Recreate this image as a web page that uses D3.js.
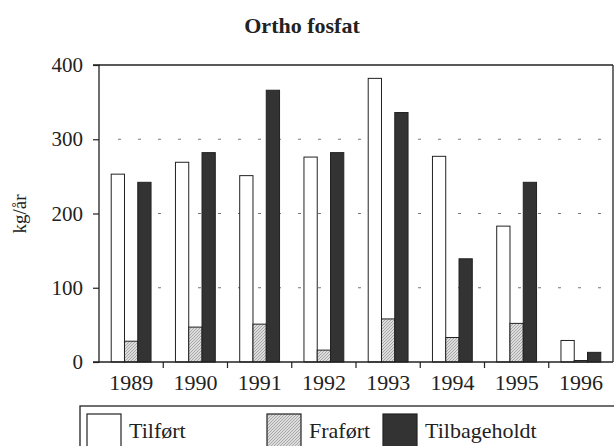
<!DOCTYPE html>
<html><head><meta charset="utf-8">
<script src="https://cdn.jsdelivr.net/npm/d3@7"></script>
<style>
html,body{margin:0;padding:0;background:#fff;}
svg{display:block;font-family:"Liberation Serif","Times New Roman",serif;}
</style></head>
<body>
<svg id="c" width="614" height="446"></svg>
<script>
const years = ["1989","1990","1991","1992","1993","1994","1995","1996"];
const tilfoert = [253, 269, 251, 276, 382, 277, 183, 29];
const fraFoert = [28, 47, 51, 16, 58, 33, 52, 2];
const tilbageholdt = [242, 282, 366, 282, 336, 139, 242, 13];
const seriesNames = ["Tilført", "Fraført", "Tilbageholdt"];
const yTicks = [0, 100, 200, 300, 400];
const title = "Ortho fosfat";
const yLabel = "kg/år";

const svg = d3.select("#c");
const m = {left: 99, right: 613, top: 65, bottom: 362};

const defs = svg.append("defs");
const pat = defs.append("pattern").attr("id","hatch").attr("patternUnits","userSpaceOnUse")
  .attr("width",3).attr("height",3);
pat.append("rect").attr("width",3).attr("height",3).attr("fill","#dcdcdc");
pat.append("path").attr("d","M-1,1 L1,-1 M0,3 L3,0 M2,4 L4,2").attr("stroke","#9a9a9a").attr("stroke-width",0.8);

const fills = ["#ffffff","url(#hatch)","#333333"];
const data = years.map((y,i)=>({year:y, vals:[tilfoert[i], fraFoert[i], tilbageholdt[i]]}));

const x = d3.scaleBand().domain(years).range([m.left, m.right]).padding(0);
const bw = x.bandwidth();
const inner = d3.scaleBand().domain(d3.range(3)).range([bw*0.19, bw*0.81]).padding(0);
const y = d3.scaleLinear().domain([0,400]).range([m.bottom, m.top]);

// title
svg.append("text").attr("x",302).attr("y",33).attr("text-anchor","middle")
  .attr("font-weight","bold").attr("font-size",22).attr("fill","#222").text(title);

// y label
svg.append("text").attr("transform","translate(26,214) rotate(-90)").attr("text-anchor","middle")
  .attr("font-size",19).attr("fill","#222").text(yLabel);

// gridlines
svg.append("g").selectAll("line").data(yTicks.filter(t=>t>0 && t<400)).join("line")
  .attr("x1",m.left+19).attr("x2",m.right).attr("y1",d=>y(d)).attr("y2",d=>y(d))
  .attr("stroke","#777").attr("stroke-width",1.2).attr("stroke-dasharray","3,17");

// bars
const g = svg.append("g");
data.forEach(d=>{
  d.vals.forEach((v,k)=>{
    g.append("rect")
      .attr("x", x(d.year)+inner(k)).attr("width", inner.bandwidth())
      .attr("y", y(v)).attr("height", y(0)-y(v))
      .attr("fill", fills[k]).attr("stroke","#222").attr("stroke-width",1);
  });
});

// frame
svg.append("line").attr("x1",m.left).attr("x2",m.right).attr("y1",m.top).attr("y2",m.top).attr("stroke","#222").attr("stroke-width",1.3);
svg.append("line").attr("x1",m.right).attr("x2",m.right).attr("y1",m.top).attr("y2",m.bottom).attr("stroke","#222").attr("stroke-width",1.3);

// y axis
const yAxis = d3.axisLeft(y).tickValues(yTicks).tickSize(6).tickPadding(10);
const ya = svg.append("g").attr("transform",`translate(${m.left},0)`).call(yAxis);
ya.select(".domain").attr("stroke","#222").attr("stroke-width",1.3).attr("d",`M-6,${m.top}H0V${m.bottom}H-6`);
ya.selectAll(".tick line").attr("stroke","#222").attr("stroke-width",1.2);
ya.selectAll("text").attr("font-size",21).attr("font-family","Liberation Serif").attr("fill","#222");

// x axis
const xa = svg.append("g").attr("transform",`translate(0,${m.bottom})`)
  .call(d3.axisBottom(x).tickSize(0).tickPadding(12));
xa.select(".domain").attr("stroke","#222").attr("stroke-width",1.3).attr("d",`M${m.left},0H${m.right}`);
xa.selectAll("text").attr("font-size",22).attr("font-family","Liberation Serif").attr("fill","#222");
svg.append("g").selectAll("line").data(years.slice(1)).join("line")
  .attr("x1",d=>x(d)).attr("x2",d=>x(d)).attr("y1",m.bottom).attr("y2",m.bottom+6)
  .attr("stroke","#222").attr("stroke-width",1.2);

// legend
svg.append("rect").attr("x",80).attr("y",406).attr("width",600).attr("height",80)
  .attr("fill","none").attr("stroke","#222").attr("stroke-width",1.3);
const legX = [87, 267, 383];
seriesNames.forEach((n,k)=>{
  svg.append("rect").attr("x",legX[k]).attr("y",414).attr("width",34).attr("height",34)
    .attr("fill",fills[k]).attr("stroke","#222").attr("stroke-width",1.2);
  svg.append("text").attr("x",legX[k]+42).attr("y",438).attr("font-size",22).attr("fill","#222").text(n);
});
</script>
</body></html>
